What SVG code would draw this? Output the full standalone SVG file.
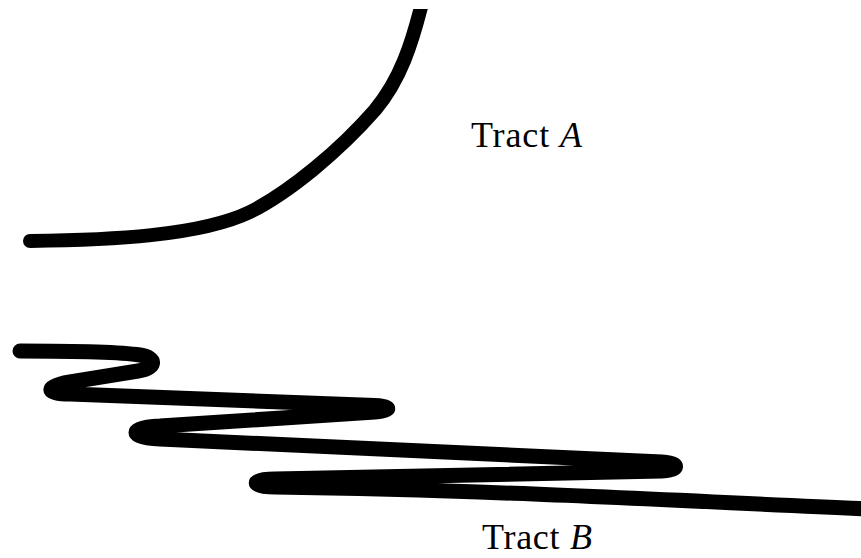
<svg xmlns="http://www.w3.org/2000/svg" width="861" height="558" viewBox="0 0 861 558">
  <style>
    .tract { fill: none; stroke: #000; stroke-linecap: round; stroke-linejoin: round; }
    .label { font-family: "Liberation Serif", "Times New Roman", serif; font-size: 36px; fill: #000; }
    .it { font-style: italic; }
  </style>
  <defs>
    <clipPath id="clipTop">
      <rect x="0" y="9" width="861" height="549"/>
    </clipPath>
  </defs>
  <rect x="0" y="0" width="861" height="558" fill="#fff"/>
  <g id="tractA">
    <path class="tract" stroke-width="14" clip-path="url(#clipTop)"
          d="M30,241 C110,240 200,236 250,212 C290,192 340,150 375,110 C400,80 412,45 424,-5"/>
    <text class="label" x="471" y="147" textLength="111" lengthAdjust="spacing">Tract <tspan class="it">A</tspan></text>
  </g>
  <g id="tractB">
    <path class="tract" stroke-width="15"
          d="M20,351 C70,351 120,352 140,355 C158,358 156,368 138,371 L70,382 C45,386 44,394 70,394 L375,405.5 C392,406 392,411 375,412 L160,426 C128,427 128,438 160,439 L662,462 C680,463 680,470 662,471 L275,479 C250,479 250,487 275,487 C500,490 700,502 870,509"/>
    <text class="label" x="482" y="549" textLength="110" lengthAdjust="spacing">Tract <tspan class="it">B</tspan></text>
  </g>
</svg>
